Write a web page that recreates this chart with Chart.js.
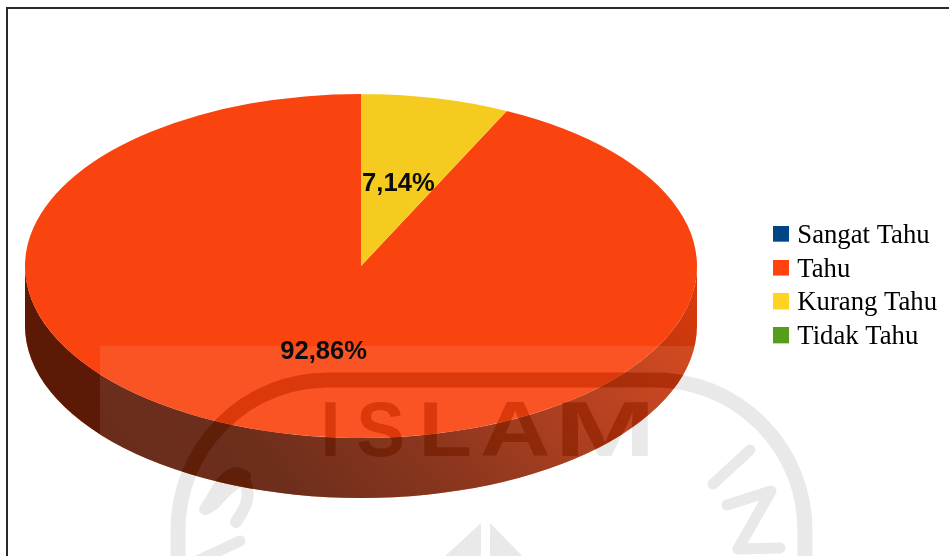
<!DOCTYPE html>
<html>
<head>
<meta charset="utf-8">
<style>
  html, body { margin: 0; padding: 0; background: #fff; }
  canvas { display: block; }
</style>
<script src="https://cdn.jsdelivr.net/npm/chart.js@4"></script>
</head>
<body>
<canvas id="pie" width="949" height="556"></canvas>
<script>
// Survey answers, in percent
const categories = ['Sangat Tahu', 'Tahu', 'Kurang Tahu', 'Tidak Tahu'];
const shares = [0, 92.86, 7.14, 0];

const sliceColors = ['#004586', '#fa440f', '#f6cb20', '#579d1c'];
const legendColors = ['#004586', '#ff420e', '#ffd320', '#579d1c'];

// Appearance of the tilted disc
const tilt = 0.512;
const discRadius = 336;
const discCenter = { x: 361, y: 266 };
const discDepth = 60;
const wallShade = [
  [0, 0.64], [0.25, 0.62], [0.5, 0.47], [0.75, 0.28], [1, 0.12]
];

// Letters of the seal heading: glyph, left edge, width
const sealLetters = [
  ['I', 325, 11], ['S', 358, 44], ['L', 424, 46], ['A', 481, 68], ['M', 562, 86]
];

// Legend marker, sitting a little above the centre of its canvas
function swatch(color) {
  const c = document.createElement('canvas');
  c.width = 16;
  c.height = 20;
  const g = c.getContext('2d');
  g.fillStyle = color;
  g.fillRect(0, 0, 16, 16);
  return c;
}

function applyTilt(ctx, arc) {
  ctx.translate(discCenter.x, discCenter.y);
  ctx.scale(1, tilt);
  ctx.translate(-arc.x, -arc.y);
}

// University seal: ring, heading, side letters and roof
function drawSeal(ctx, color) {
  ctx.strokeStyle = color;
  ctx.fillStyle = color;
  ctx.lineJoin = 'round';
  ctx.lineCap = 'round';

  ctx.lineWidth = 15;
  ctx.beginPath();
  ctx.roundRect(178, 380, 627, 400, 150);
  ctx.stroke();

  ctx.font = 'bold 78px "Liberation Sans"';
  ctx.textBaseline = 'alphabetic';
  ctx.textAlign = 'left';
  sealLetters.forEach(([ch, left, wide]) => {
    const m = ctx.measureText(ch);
    const inkLeft = -m.actualBoundingBoxLeft;
    const inkWide = m.actualBoundingBoxRight + m.actualBoundingBoxLeft;
    ctx.save();
    ctx.translate(left, 456);
    ctx.scale(wide / inkWide, 1);
    ctx.translate(-inkLeft, 0);
    ctx.fillText(ch, 0, 0);
    ctx.restore();
  });

  // hand-drawn strokes of the curved lettering along the ring
  ctx.lineWidth = 11;
  ctx.beginPath();
  ctx.moveTo(750, 450);
  ctx.lineTo(713, 484);
  ctx.moveTo(727, 505);
  ctx.lineTo(771, 491);
  ctx.lineTo(738, 549);
  ctx.lineTo(780, 548);
  ctx.moveTo(240, 541);
  ctx.lineTo(195, 562);
  ctx.stroke();

  ctx.lineWidth = 12;
  ctx.beginPath();
  ctx.moveTo(245, 476);
  ctx.bezierCurveTo(232, 468, 222, 480, 214, 495);
  ctx.bezierCurveTo(205, 512, 200, 512, 214, 504);
  ctx.moveTo(214, 504);
  ctx.bezierCurveTo(226, 490, 238, 478, 245, 482);
  ctx.bezierCurveTo(252, 498, 244, 510, 236, 522);
  ctx.stroke();

  ctx.beginPath();
  ctx.moveTo(481, 523);
  ctx.lineTo(481, 570);
  ctx.lineTo(430, 570);
  ctx.closePath();
  ctx.moveTo(490, 523);
  ctx.lineTo(536, 570);
  ctx.lineTo(490, 570);
  ctx.closePath();
  ctx.fill();
}

// Page frame along the top and left edge, seal on bare paper
const pagePlugin = {
  id: 'page',
  beforeDraw(chart) {
    const { ctx, width, height } = chart;
    ctx.save();
    ctx.fillStyle = '#2a2a2a';
    ctx.fillRect(6, 7, width - 6, 2);
    ctx.fillRect(6, 7, 2, height - 7);
    drawSeal(ctx, '#e9e9e9');
    ctx.restore();
  }
};

// Tilts the pie and extrudes its front half into a wall
const discPlugin = {
  id: 'disc',
  beforeDatasetsDraw(chart) {
    const { ctx } = chart;
    const arcs = chart.getDatasetMeta(0).data;
    ctx.save();
    applyTilt(ctx, arcs[0]);
    const drop = discDepth / tilt;
    arcs.forEach((arc, i) => {
      const from = Math.max(arc.startAngle, 0);
      const to = Math.min(arc.endAngle, Math.PI);
      if (to <= from) return;
      ctx.beginPath();
      ctx.arc(arc.x, arc.y + drop, arc.outerRadius, from, to);
      ctx.arc(arc.x, arc.y, arc.outerRadius, to, from, true);
      ctx.closePath();
      ctx.fillStyle = sliceColors[i];
      ctx.fill();
      const shade = ctx.createLinearGradient(
        arc.x - arc.outerRadius, arc.y + drop + arc.outerRadius / 2,
        arc.x + arc.outerRadius, arc.y
      );
      wallShade.forEach(([stop, alpha]) => shade.addColorStop(stop, 'rgba(0,0,0,' + alpha + ')'));
      ctx.fillStyle = shade;
      ctx.fill();
    });
  },
  afterDatasetsDraw(chart) {
    const { ctx, width, height } = chart;
    ctx.restore();
    const arc = chart.getDatasetMeta(0).data[0];

    // seal seen through the disc, tinted by what lies beneath it
    ctx.save();
    ctx.translate(discCenter.x, discCenter.y);
    ctx.scale(1, tilt);
    const drop = discDepth / tilt;
    ctx.beginPath();
    ctx.arc(0, drop, arc.outerRadius, 0, Math.PI);
    ctx.arc(0, 0, arc.outerRadius, Math.PI, 0);
    ctx.closePath();
    ctx.setTransform(1, 0, 0, 1, 0, 0);
    ctx.clip();

    ctx.fillStyle = 'rgba(255,255,255,0.09)';
    ctx.fillRect(100, 346, width - 100, height - 346);
    ctx.globalCompositeOperation = 'multiply';
    drawSeal(ctx, '#e0a848');
    ctx.restore();
  }
};

// Percentage labels at half radius of each visible slice
const percentPlugin = {
  id: 'percent',
  afterDraw(chart) {
    const { ctx } = chart;
    const arcs = chart.getDatasetMeta(0).data;
    ctx.save();
    ctx.font = 'bold 25.6px "Liberation Sans"';
    ctx.fillStyle = '#0c0c0c';
    ctx.textAlign = 'center';
    ctx.textBaseline = 'middle';
    arcs.forEach((arc, i) => {
      if (!shares[i]) return;
      const mid = (arc.startAngle + arc.endAngle) / 2;
      const reach = arc.outerRadius / 2;
      const x = discCenter.x + Math.cos(mid) * reach;
      const y = discCenter.y + Math.sin(mid) * reach * tilt;
      ctx.fillText(shares[i].toFixed(2).replace('.', ',') + '%', x, y + 2);
    });
    ctx.restore();
  }
};

new Chart(document.getElementById('pie'), {
  type: 'pie',
  data: {
    labels: categories,
    datasets: [{
      data: shares,
      backgroundColor: sliceColors,
      borderWidth: 0,
      radius: discRadius,
      clip: false
    }]
  },
  options: {
    responsive: false,
    animation: false,
    rotation: shares[2] / 100 * 360,
    layout: { padding: { top: 17, right: 2 } },
    plugins: {
      tooltip: { enabled: false },
      legend: {
        position: 'right',
        labels: {
          usePointStyle: true,
          pointStyleWidth: 5.5,
          padding: 7.2,
          color: '#111',
          font: { family: '"Liberation Serif"', size: 26.7 },
          generateLabels: () => categories.map((text, index) => ({
            text,
            index,
            hidden: false,
            lineWidth: 0,
            fillStyle: legendColors[index],
            pointStyle: swatch(legendColors[index])
          }))
        }
      }
    }
  },
  plugins: [pagePlugin, discPlugin, percentPlugin]
});
</script>
</body>
</html>
